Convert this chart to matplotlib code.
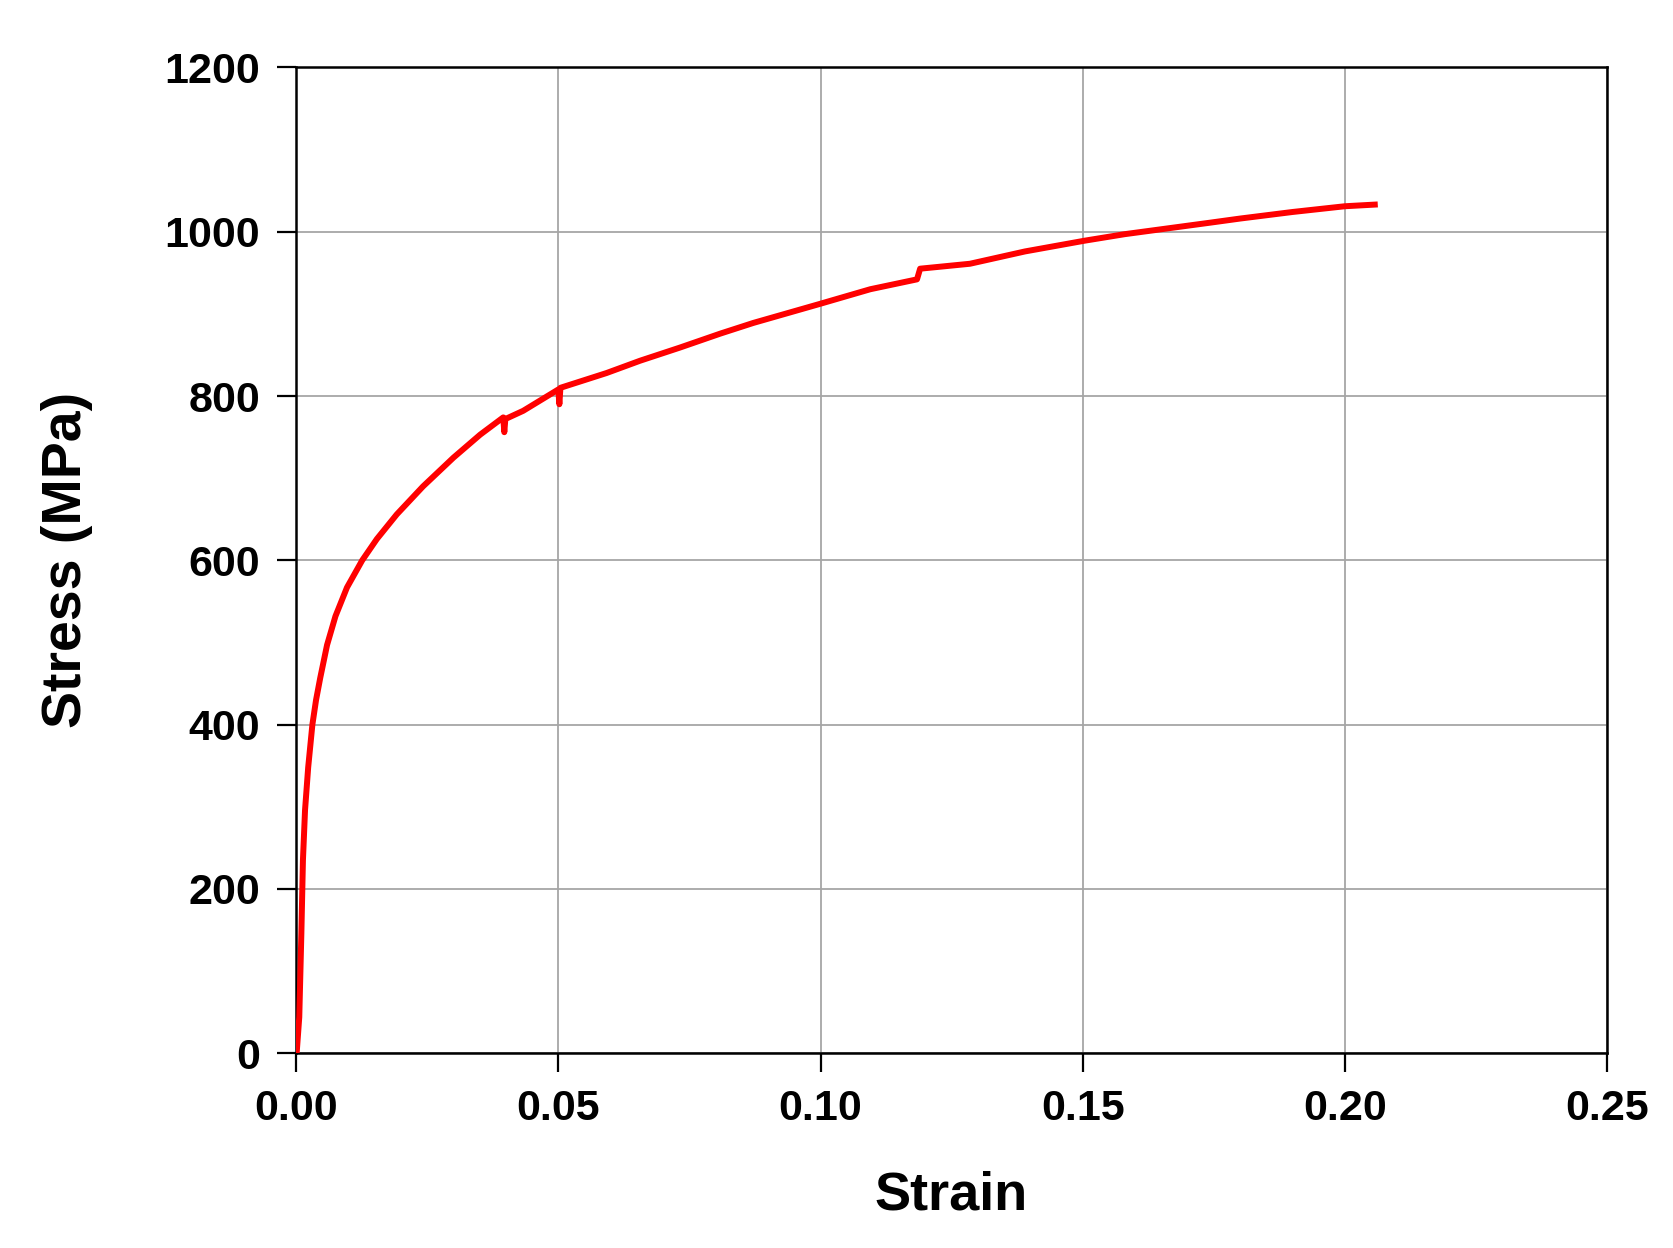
import matplotlib
matplotlib.use("Agg")
from matplotlib import pyplot as plt

# stress-strain curve
strain = [0.0, 0.0001, 0.0006, 0.0010, 0.0013, 0.0017, 0.0023, 0.0031, 0.0038,
          0.0046, 0.0059, 0.0075, 0.0097, 0.0126, 0.0154, 0.0192, 0.0242,
          0.0300, 0.0351, 0.0395, 0.0397, 0.0399, 0.0433, 0.0500, 0.0502,
          0.0504, 0.0592, 0.0656, 0.0732, 0.0809, 0.0872, 0.0998, 0.1095,
          0.1184, 0.1190, 0.1285, 0.1390, 0.1503, 0.1580, 0.1743, 0.1800,
          0.1900, 0.2000, 0.2057]
stress = [0, 0, 44, 146, 235, 296, 348, 400, 430,
          457, 497, 532, 567, 600, 626, 656, 690,
          725, 753, 774, 756, 772, 782, 808, 790,
          810, 828, 843, 859, 876, 889, 912, 930,
          942, 955, 961, 976, 989, 997, 1011, 1016,
          1024, 1031, 1033]

xticks = [0.00, 0.05, 0.10, 0.15, 0.20, 0.25]
yticks = [0, 200, 400, 600, 800, 1000, 1200]

plt.rcParams['font.family'] = ['Liberation Sans', 'DejaVu Sans']
plt.rcParams['font.weight'] = 'bold'

fig = plt.figure(figsize=(16.73, 12.48), dpi=100)
ax = fig.add_axes([0.177, 0.156, 0.7836, 0.790])

ax.plot(strain, stress, color='#ff0000', lw=4.3, zorder=3)

ax.set_xlim(0, 0.25)
ax.set_ylim(0, 1200)
ax.set_xticks(xticks)
ax.set_yticks(yticks)
ax.set_xticklabels(['%.2f' % t for t in xticks])
ax.set_yticklabels([str(t) for t in yticks])
ax.grid(True, color='#a6a6a6', lw=1.3, zorder=0)
ax.set_axisbelow(True)

for s in ax.spines.values():
    s.set_linewidth(1.8)
ax.tick_params(axis='both', direction='out', length=14, width=1.6,
               labelsize=31, pad=12)
for lab in ax.get_xticklabels() + ax.get_yticklabels():
    lab.set_fontweight('bold')

ax.set_xlabel('Strain', fontsize=39, fontweight='bold')
ax.set_ylabel('Stress (MPa)', fontsize=40, fontweight='bold')
ax.xaxis.label.set_va('center')
ax.yaxis.label.set_va('center')
ax.xaxis.set_label_coords(0.5, -0.144)
ax.yaxis.set_label_coords(-0.175, 0.5)

fig.savefig('out.png', dpi=100)
